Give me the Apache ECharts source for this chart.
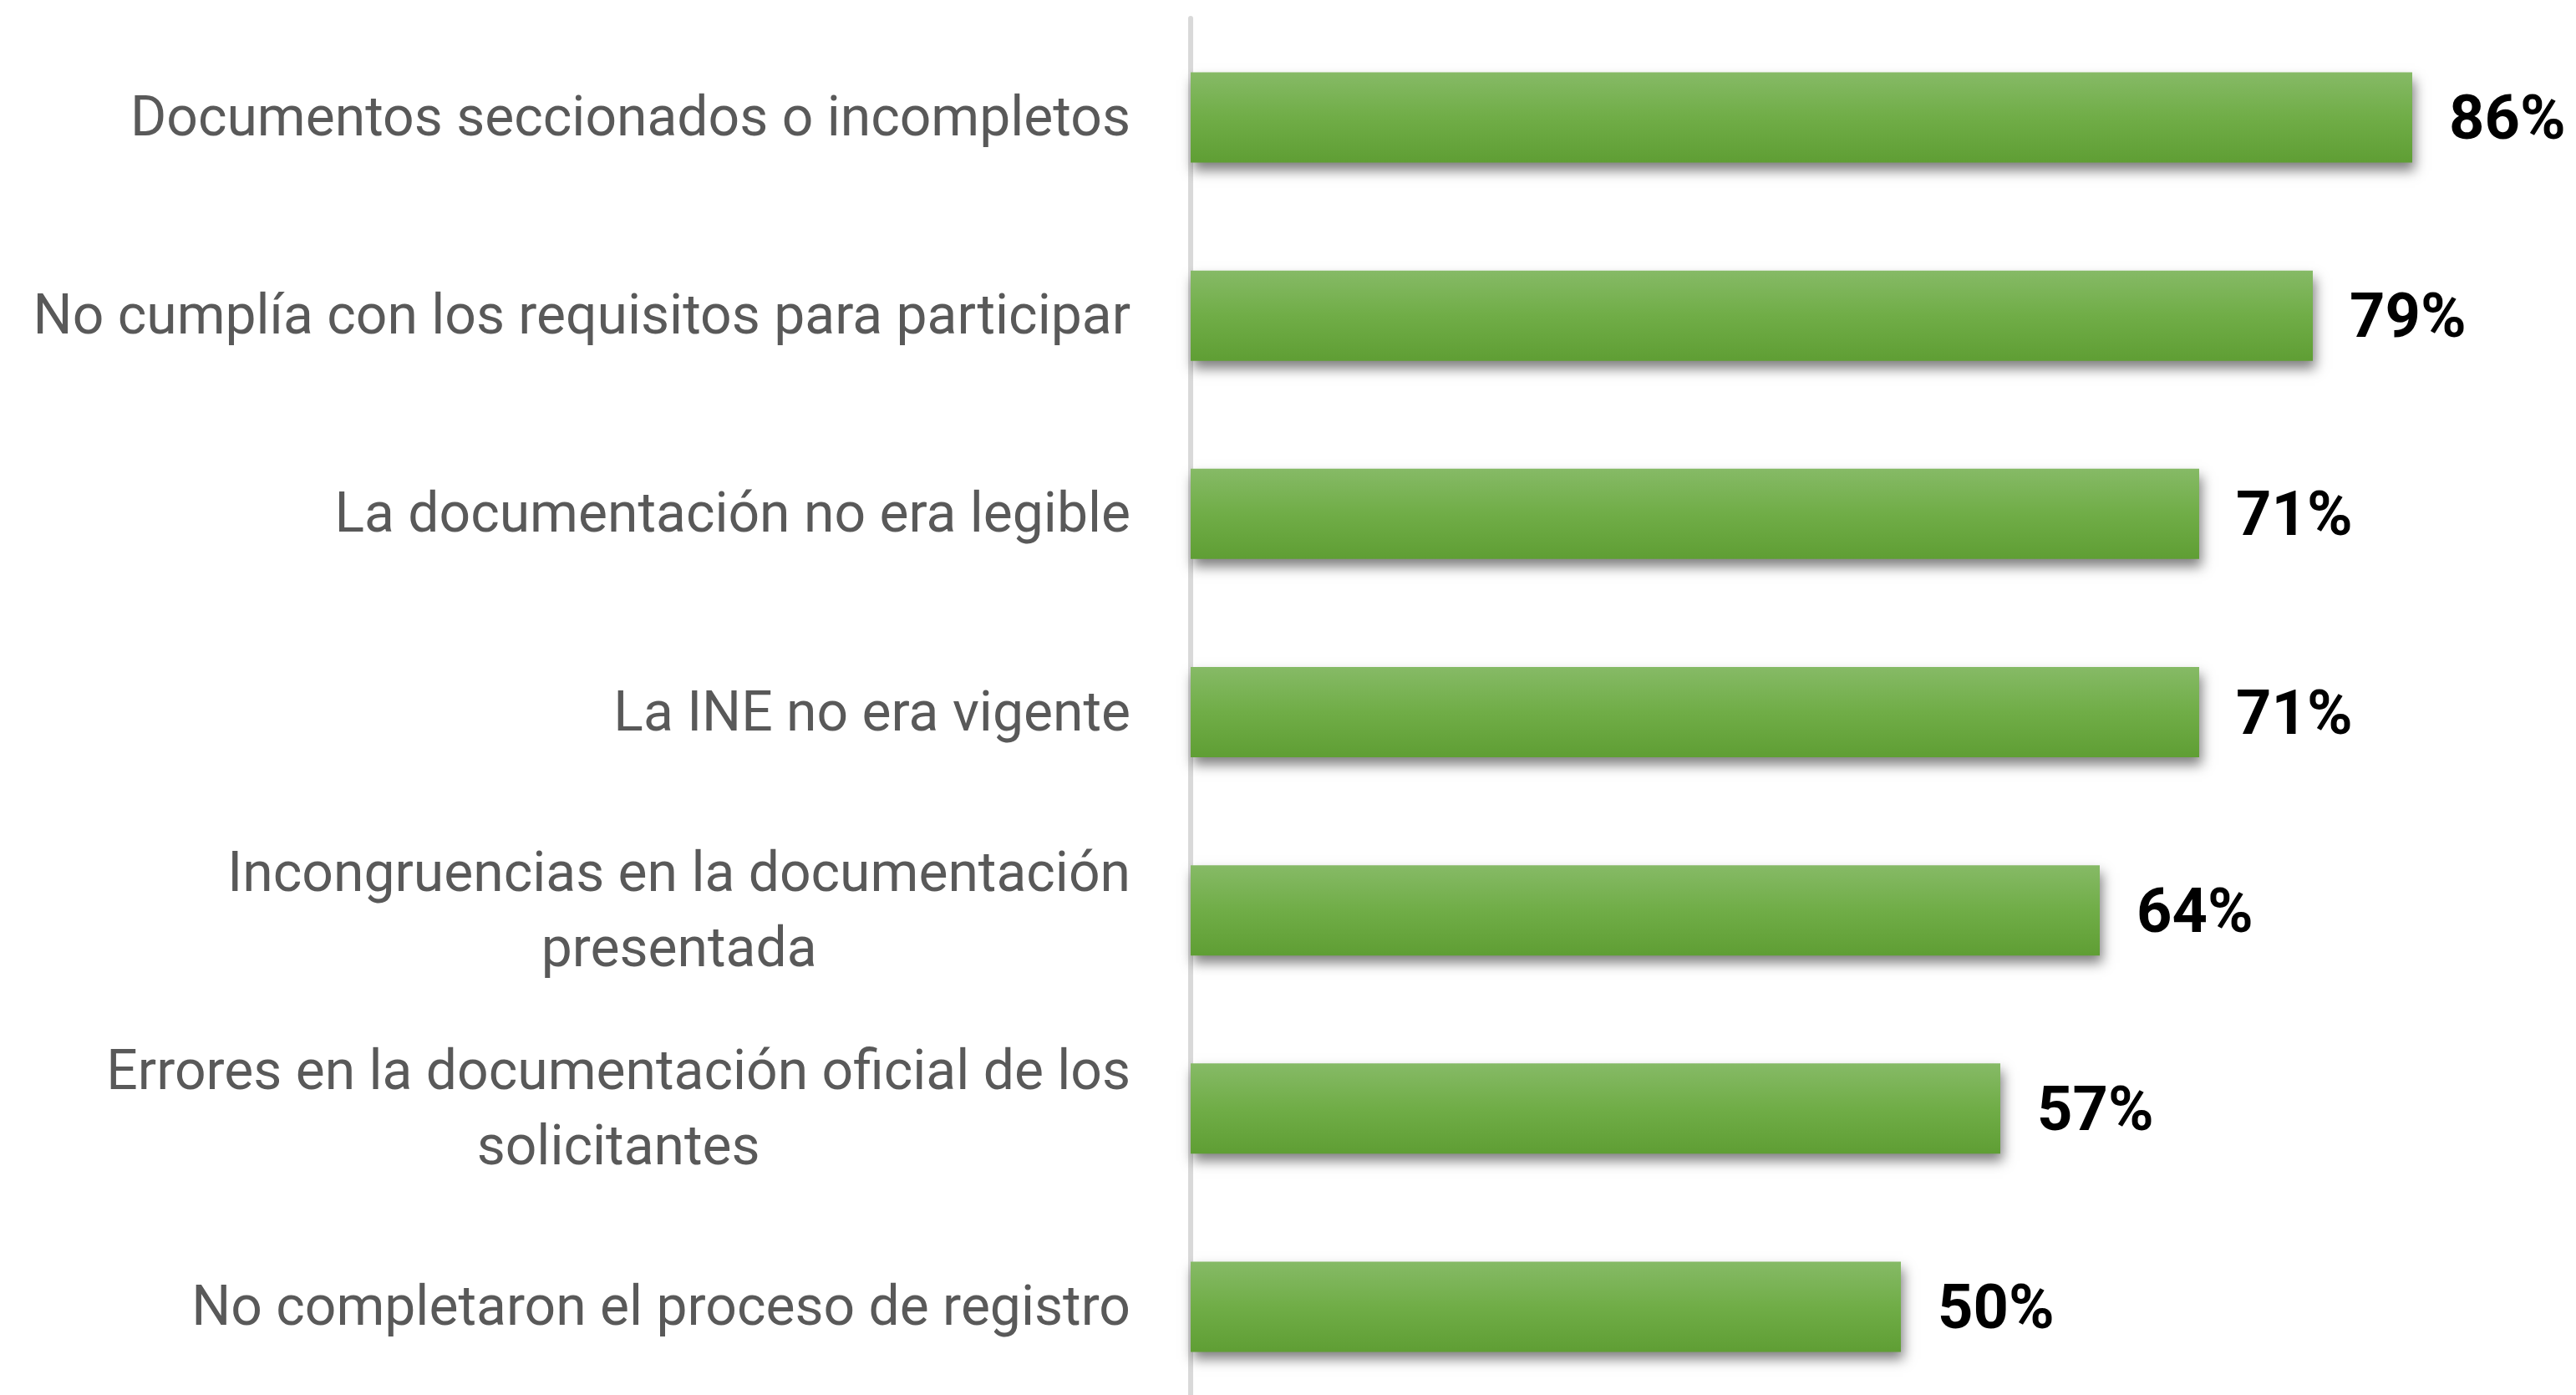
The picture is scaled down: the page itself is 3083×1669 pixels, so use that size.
<!DOCTYPE html>
<html style="height: 100%">
<head>
    <meta charset="UTF-8">
    <title>Motivos de rechazo</title>
    <script src="https://cdn.jsdelivr.net/npm/echarts/dist/echarts.min.js"></script>
    <style>
        #main {
            height: 100%;
        }
    </style>
</head>
<body style="height: 100%; margin: 0; background: #fff">
    <div id="main"></div>
    <script type="text/javascript">
        var categories = [
            'Documentos seccionados o incompletos',
            'No cumplía con los requisitos para participar',
            'La documentación no era legible',
            'La INE no era vigente',
            'Incongruencias en la documentación\npresentada',
            'Errores en la documentación oficial de los\nsolicitantes',
            'No completaron el proceso de registro'
        ];
        var values = [86, 79, 71, 71, 64, 57, 50];

        var chartDom = document.getElementById('main');
        var myChart = echarts.init(chartDom);
        var option;

        option = {
            animation: false,
            grid: {
                left: 1425,
                top: 22,
                width: 1700,
                height: 1660,
                outerBoundsMode: 'none',
                containLabel: false
            },
            xAxis: {
                type: 'value',
                min: 0,
                max: 100,
                show: false
            },
            yAxis: {
                type: 'category',
                inverse: true,
                data: categories,
                offset: 3,
                axisLine: {
                    lineStyle: { color: '#d9d9d9', width: 6 }
                },
                axisTick: { show: false },
                axisLabel: {
                    margin: 69,
                    padding: [10, 0, 0, 0],
                    formatter: function (value) {
                        return value.split('\n').map(function (s) {
                            return '{c|' + s + '}';
                        }).join('\n');
                    },
                    rich: {
                        c: {
                            align: 'center',
                            color: '#595959',
                            fontFamily: 'Roboto',
                            fontSize: 66,
                            lineHeight: 90
                        }
                    }
                }
            },
            series: [{
                type: 'bar',
                data: values,
                barWidth: 108,
                itemStyle: {
                    color: new echarts.graphic.LinearGradient(0, 0, 0, 1, [
                        { offset: 0, color: '#86ba66' },
                        { offset: 0.5, color: '#70ad47' },
                        { offset: 1, color: '#5f9e34' }
                    ]),
                    shadowBlur: 14,
                    shadowOffsetX: 3,
                    shadowOffsetY: 9,
                    shadowColor: 'rgba(0, 0, 0, 0.5)'
                },
                label: {
                    show: true,
                    position: 'right',
                    distance: 44,
                    offset: [0, 7],
                    formatter: '{c}%',
                    color: '#000',
                    fontFamily: 'Roboto',
                    fontWeight: 'bold',
                    fontSize: 74
                }
            }]
        };

        myChart.setOption(option);
    </script>
</body>
</html>
